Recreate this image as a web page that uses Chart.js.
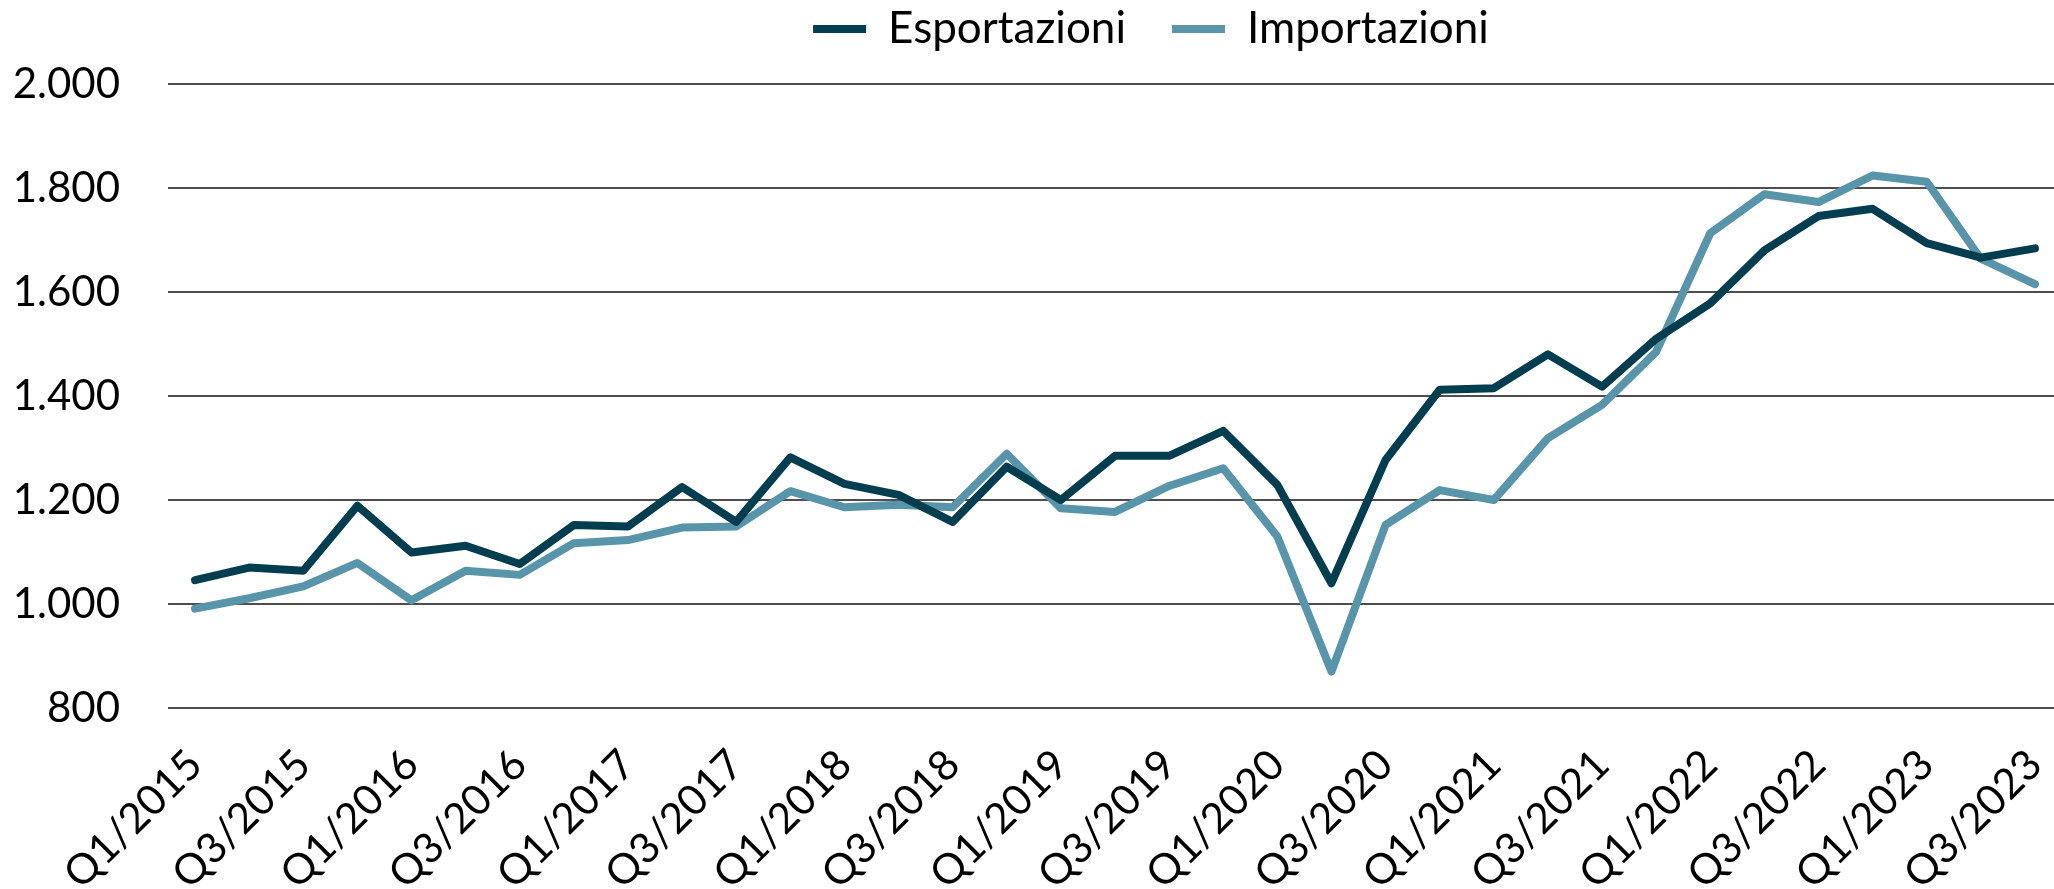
<!DOCTYPE html>
<html>
<head>
<meta charset="utf-8">
<script src="https://cdn.jsdelivr.net/npm/chart.js@4"></script>
<style>
    html, body { margin: 0; padding: 0; background: #fff; overflow: hidden; }
    #wrap { width: 2054px; height: 889px; overflow: hidden; position: relative; }
    #trade-chart { display: block; }
</style>
</head>
<body>
<div id="wrap">
    <canvas id="trade-chart" width="2066" height="889"></canvas>
</div>
<script>
const quarters = [
    "Q1/2015", "Q2/2015", "Q3/2015", "Q4/2015",
    "Q1/2016", "Q2/2016", "Q3/2016", "Q4/2016",
    "Q1/2017", "Q2/2017", "Q3/2017", "Q4/2017",
    "Q1/2018", "Q2/2018", "Q3/2018", "Q4/2018",
    "Q1/2019", "Q2/2019", "Q3/2019", "Q4/2019",
    "Q1/2020", "Q2/2020", "Q3/2020", "Q4/2020",
    "Q1/2021", "Q2/2021", "Q3/2021", "Q4/2021",
    "Q1/2022", "Q2/2022", "Q3/2022", "Q4/2022",
    "Q1/2023", "Q2/2023", "Q3/2023",
];

const esportazioni = [
    1046, 1070, 1064, 1189, 1099, 1112, 1077, 1152, 1149, 1225,
    1158, 1282, 1231, 1210, 1158, 1264, 1200, 1285, 1285, 1333,
    1229, 1040, 1277, 1412, 1415, 1480, 1418, 1510, 1578, 1680,
    1746, 1760, 1694, 1666, 1684,
];

const importazioni = [
    991, 1011, 1034, 1079, 1007, 1064, 1056, 1117, 1123, 1147,
    1149, 1217, 1186, 1191, 1186, 1289, 1184, 1177, 1227, 1261,
    1130, 870, 1152, 1219, 1200, 1319, 1383, 1485, 1713, 1788,
    1773, 1824, 1812, 1664, 1615,
];

const seriesNames = ["Esportazioni", "Importazioni"];
const yTicks = [800, 1000, 1200, 1400, 1600, 1800, 2000];

const darkBlue = "#033d50";
const lightBlue = "#5894aa";
const fontFamily = "Lato";

function formatThousands(value) {
    return String(value).replace(/\B(?=(\d{3})+(?!\d))/g, ".");
}

const chartCanvas = document.getElementById("trade-chart");

const tradeChart = new Chart(chartCanvas, {
    type: "line",
    data: {
        labels: quarters,
        datasets: [
            {
                label: seriesNames[0],
                data: esportazioni,
                borderColor: darkBlue,
                backgroundColor: darkBlue,
                borderWidth: 8,
                borderCapStyle: "round",
                borderJoinStyle: "round",
                pointRadius: 0,
                tension: 0,
            },
            {
                label: seriesNames[1],
                data: importazioni,
                borderColor: lightBlue,
                backgroundColor: lightBlue,
                borderWidth: 8,
                borderCapStyle: "round",
                borderJoinStyle: "round",
                pointRadius: 0,
                tension: 0,
            },
        ],
    },
    options: {
        responsive: false,
        animation: false,
        layout: {
            // legend sits close to the top edge
            padding: { top: -39, left: 0, right: 0, bottom: 0 },
        },
        scales: {
            x: {
                offset: true,
                grid: { display: false, drawTicks: false },
                border: { display: false },
                // keep the plot area where the reference has it
                afterFit: function (axis) {
                    axis.height = 181;
                    axis.paddingLeft = 0;
                    axis.paddingRight = 0;
                },
                ticks: {
                    autoSkip: false,
                    maxRotation: 45,
                    minRotation: 45,
                    padding: 32,
                    color: "#000",
                    font: { family: fontFamily, size: 42 },
                    callback: function (value, index) {
                        return index % 2 === 0 ? quarters[index] : "";
                    },
                },
            },
            y: {
                min: yTicks[0],
                max: yTicks[yTicks.length - 1],
                grid: {
                    color: "#4d4d4d",
                    lineWidth: 2,
                    drawTicks: false,
                },
                border: { display: false },
                afterBuildTicks: function (axis) {
                    axis.ticks = yTicks.map(function (v) { return { value: v }; });
                },
                afterFit: function (axis) {
                    axis.width = 168;
                },
                ticks: {
                    padding: 48,
                    color: "#000",
                    font: { family: fontFamily, size: 42 },
                    callback: function (value) {
                        return formatThousands(value);
                    },
                },
            },
        },
        plugins: {
            legend: {
                display: true,
                position: "top",
                fullSize: false,
                labels: {
                    usePointStyle: true,
                    pointStyle: "line",
                    pointStyleWidth: 53,
                    boxHeight: 8,
                    padding: 46,
                    color: "#000",
                    font: { family: fontFamily, size: 44 },
                },
            },
            tooltip: { enabled: false },
        },
    },
});

// fixed legend band height so the plot starts at the 2.000 line of the reference
const legendBox = tradeChart.legend;
const legendFit = legendBox.fit;
legendBox.fit = function () {
    legendFit.call(this);
    this.height = 123;
};
const legendDraw = legendBox.draw;
legendBox.draw = function () {
    const ctx = this.ctx;
    ctx.save();
    ctx.translate(36, 0);
    legendDraw.apply(this, arguments);
    ctx.restore();
};
tradeChart.update();
</script>
</body>
</html>
